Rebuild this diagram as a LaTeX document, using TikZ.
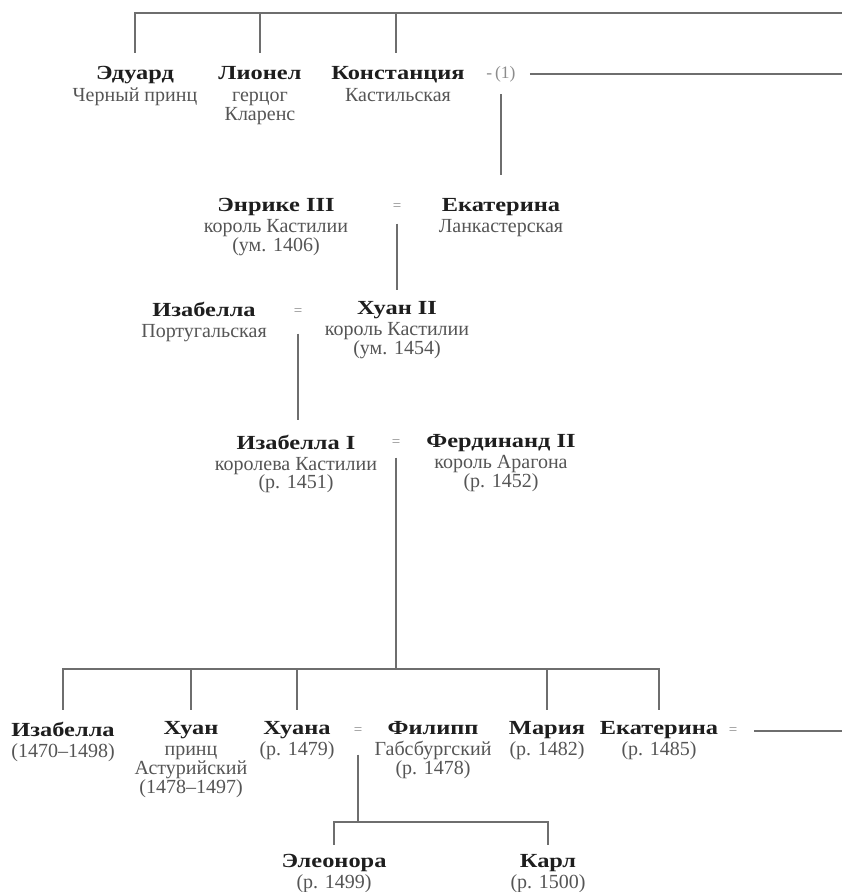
\documentclass[tikz,border=0pt]{standalone}
\usepackage{fontspec}
\setmainfont{Liberation Serif}
\newfontfamily\namefont[FakeStretch=1.22]{Liberation Serif}

\newcommand{\pname}[1]{{\namefont\bfseries\fontsize{20}{18.5}\selectfont\color{namecol}#1}}

\tikzset{
  person/.style={anchor=north, inner sep=0pt, align=center, text=subgray,
    font=\fontsize{20}{18.5}\selectfont},
  wed/.style={inner sep=0pt, text=eqgray, font=\fontsize{15}{15}\selectfont},
  kin/.style={draw=linegray, line width=1.2pt},
}

\begin{document}
\begin{tikzpicture}[x=1pt, y=-1pt]

% Colors
\definecolor{namecol}{RGB}{30,30,30}   % names
\definecolor{subgray}{RGB}{85,85,85}   % titles, dates
\definecolor{eqgray}{RGB}{140,140,140} % marriage signs
\definecolor{linegray}{RGB}{110,110,110}

\useasboundingbox (0,0) rectangle (842,892);

% === Generation 1 ===
\node[person] (edward) at (135,66.5) {\pname{Эдуард}\\[3.5pt]Черный принц};
\node[person] (lionel) at (260,66.5) {\pname{Лионел}\\[3.5pt]герцог\\Кларенс};
\node[person] (constance) at (398,66.5) {\pname{Констанция}\\[3.5pt]Кастильская};
\node[wed, font=\fontsize{17.5}{17.5}\selectfont] (w1) at (501,74) {-\,(1)};

\coordinate (topR) at (842,13);
\coordinate (w1R) at (842,74);

\draw[kin, shorten >=14pt] (topR) -| (edward.north);
\draw[kin, shorten >=14pt] (topR) -| (lionel.north);
\draw[kin, shorten >=14pt] (topR) -| ([xshift=-2pt]constance.north);
\draw[kin, shorten <=14pt] (w1.east) -- (w1R);

% === Generation 2 ===
\node[person] (enrique) at (276,198.5) {\pname{Энрике III}\\[2.5pt]король Кастилии\\(ум. 1406)};
\node[person] (catherine) at (501,198.5) {\pname{Екатерина}\\[2.5pt]Ланкастерская};
\node[wed] (w2) at (397,207) {=};

\draw[kin, shorten <=12pt, shorten >=24pt] (w1.south) -- (catherine.north);

% === Generation 3 ===
\node[person] (isabellap) at (204,301.5) {\pname{Изабелла}\\[2.5pt]Португальская};
\node[person] (juan2) at (397,301.5) {\pname{Хуан II}\\[2.5pt]король Кастилии\\(ум. 1454)};
\node[wed] (w3) at (298,312) {=};

\draw[kin, shorten <=13pt, shorten >=11.5pt] (w2.south) -- (juan2.north);

% === Generation 4 ===
\node[person] (isabella1) at (296,434.5) {\pname{Изабелла I}\\[2.5pt]королева Кастилии\\(р. 1451)};
\node[person] (ferdinand) at (501,434.5) {\pname{Фердинанд II}\\[2.5pt]король Арагона\\(р. 1452)};
\node[wed] (w4) at (396,443) {=};

\draw[kin, shorten <=18pt, shorten >=14.5pt] (w3.south) -- (w3.south |- isabella1.north);

% === Children ===
\node[person] (isabella2) at (63,721.5) {\pname{Изабелла}\\[2.5pt](1470--1498)};
\node[person] (juan) at (191,721.5) {\pname{Хуан}\\[2.5pt]принц\\Астурийский\\[1pt](1478--1497)};
\node[person] (juana) at (297,721.5) {\pname{Хуана}\\[2.5pt](р. 1479)};
\node[person] (philip) at (433,721.5) {\pname{Филипп}\\[2.5pt]Габсбургский\\(р. 1478)};
\node[person] (maria) at (547,721.5) {\pname{Мария}\\[2.5pt](р. 1482)};
\node[person] (catherine2) at (659,721.5) {\pname{Екатерина}\\[2.5pt](р. 1485)};
\node[wed] (w5) at (358,731) {=};
\node[wed] (w6) at (733,731) {=};

\coordinate (bar) at (396,669);
\coordinate (w6R) at (842,731);

\draw[kin, shorten <=11pt] (w4.south) -- (bar);
\foreach \c in {isabella2,juan,juana,maria,catherine2}
  \draw[kin, shorten >=11.5pt] (bar) -| (\c.north);
\draw[kin, shorten <=17pt] (w6.east) -- (w6R);

% === Grandchildren ===
\node[person] (eleanor) at (334,854) {\pname{Элеонора}\\[2.5pt](р. 1499)};
\node[person] (charles) at (548,854) {\pname{Карл}\\[2.5pt](р. 1500)};

\coordinate (bar2) at (358,822);

\draw[kin, shorten <=20pt] (w5.south) -- (bar2);
\draw[kin, shorten >=9pt] (bar2) -| (eleanor.north);
\draw[kin, shorten >=9pt] (bar2) -| (charles.north);

\end{tikzpicture}
\end{document}
